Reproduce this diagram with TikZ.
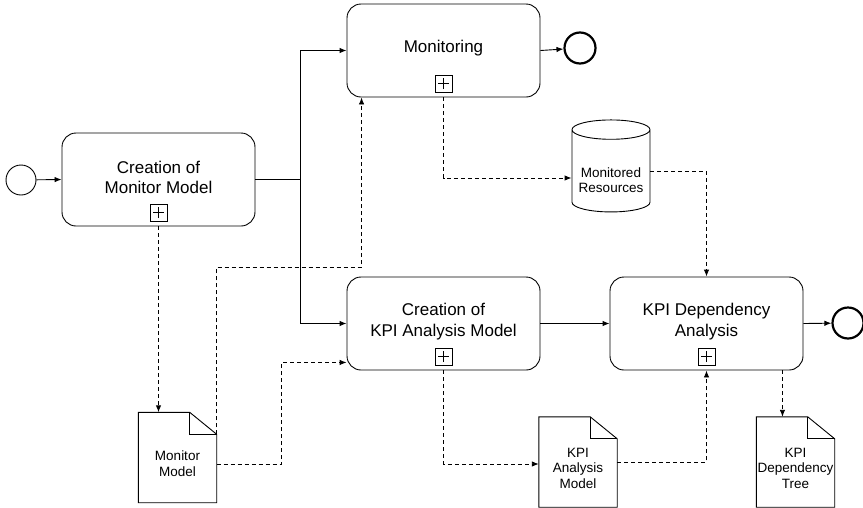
\documentclass[tikz,border=0pt]{standalone}
\usepackage{fontspec}
\setmainfont{Liberation Sans}
\usetikzlibrary{shapes.geometric,arrows.meta,positioning}

\tikzset{
  x=1pt, y=-1pt,
  every node/.style={font=\fontsize{17}{20.5}\selectfont},
  task/.style={draw, line width=0.9pt, rounded corners=14pt,
    minimum width=193pt, minimum height=93pt, inner sep=0pt},
  tasklabel/.style={align=center, inner sep=0pt},
  plusbox/.style={draw, line width=0.8pt, minimum size=17pt, inner sep=0pt,
    path picture={
      \draw[line width=0.8pt] ([xshift=3pt]path picture bounding box.west) -- ([xshift=-3pt]path picture bounding box.east);
      \draw[line width=0.8pt] ([yshift=3pt]path picture bounding box.south) -- ([yshift=-3pt]path picture bounding box.north);}},
  startev/.style={draw, circle, line width=0.9pt, minimum size=30pt, inner sep=0pt},
  endev/.style={draw, circle, line width=2.2pt, minimum size=31pt, inner sep=0pt},
  doc/.style={minimum width=78pt, minimum height=90pt, inner sep=0pt},
  doclabel/.style={align=center, inner sep=0pt, font=\fontsize{13.5}{15.5}\selectfont},
  store/.style={draw, cylinder, shape border rotate=90, aspect=0.3, line width=0.9pt,
    minimum width=78pt, minimum height=92pt, inner sep=0pt, align=center,
    font=\fontsize{13.5}{15.5}\selectfont},
  flow/.style={line width=0.9pt, -{Latex[length=7pt,width=5.5pt]}},
  seqline/.style={line width=0.9pt},
  assoc/.style={line width=0.9pt, dash pattern=on 4pt off 3pt, -{Latex[length=7pt,width=5.5pt]}},
}

% outline of a document symbol with a folded top-right corner
\newcommand{\drawdocshape}[1]{%
  \draw[line width=0.9pt] (#1.north west) -- ([xshift=-27pt]#1.north east)
    -- ([yshift=-22pt]#1.north east) -- (#1.south east) -- (#1.south west) -- cycle;
  \draw[line width=0.9pt] ([xshift=-27pt]#1.north east) |- ([yshift=-22pt]#1.north east);
}

\begin{document}
\begin{tikzpicture}
\useasboundingbox (0,0) rectangle (863,507);

% events
\node[startev] (start) at (21,180) {};
\node[endev] (end1) at (580,48) {};
\node[endev] (end2) at (848,323) {};

% tasks
\node[task] (mm) at (158.5,179.5) {};
\node[tasklabel] at ([yshift=2pt]mm.center) {Creation of\\Monitor Model};
\node[plusbox] at ([yshift=-33pt]mm.center) {};

\node[task] (mon) at (443.5,50.5) {};
\node[tasklabel] at ([yshift=2pt]mon.center) {Monitoring};
\node[plusbox] at ([yshift=-33pt]mon.center) {};

\node[task] (kam) at (443.5,323.5) {};
\node[tasklabel] at ([yshift=2pt]kam.center) {Creation of\\KPI Analysis Model};
\node[plusbox] at ([yshift=-33pt]kam.center) {};

\node[task] (kda) at (706.5,323.5) {};
\node[tasklabel] at ([yshift=2pt]kda.center) {KPI Dependency\\Analysis};
\node[plusbox] at ([yshift=-33pt]kda.center) {};

% data store: the body keeps its size from placeholder text, the label sits below the lid
\node[store] (res) at (611,171) {\phantom{Monitored}\\\phantom{Resources}};
\node[doclabel] at (611,180) {Monitored\\Resources};

% data objects
\node[doc] (mmdoc) at (177.5,457.5) {};
\drawdocshape{mmdoc}
\node[doclabel] at ([yshift=-6pt]mmdoc.center) {Monitor\\Model};

\node[doc] (kamdoc) at (578,462) {};
\drawdocshape{kamdoc}
\node[doclabel] at ([yshift=-6pt]kamdoc.center) {KPI\\Analysis\\Model};

\node[doc] (tree) at (795.5,462) {};
\drawdocshape{tree}
\node[doclabel] at ([yshift=-6pt]tree.center) {KPI\\Dependency\\Tree};

% sequence flows
\coordinate (split) at (300,179.5);
\draw[flow] (start) -- (mm.west);
\draw[seqline] (mm.east) -- (split);
\draw[flow] (split) |- (mon.west);
\draw[flow] (split) |- (kam.west);
\draw[flow] (mon.east) -- (end1);
\draw[flow] (kam.east) -- (kda.west);
\draw[flow] (kda.east) -- (end2);

% data associations
\draw[assoc] (mm.south) -- (mm.south |- mmdoc.north);
\draw[assoc] ([yshift=-22pt]mmdoc.north east) -- ++(0,-167) -| ([xshift=15pt]mon.south west);
\draw[assoc] ([yshift=-6.5pt]mmdoc.east) -- ++(65,0) |- ([yshift=8pt]kam.south west);
\draw[assoc] (mon.south) |- ([yshift=-7pt]res.west);
\draw[assoc] (res.east) -| (kda.north);
\draw[assoc] (kam.south) |- ([yshift=-2pt]kamdoc.west);
\draw[assoc] (kamdoc.east) -| (kda.south);
\draw[assoc] ([xshift=-21pt]kda.south east) -- ([xshift=-21pt]kda.south east |- tree.north);
\end{tikzpicture}
\end{document}
